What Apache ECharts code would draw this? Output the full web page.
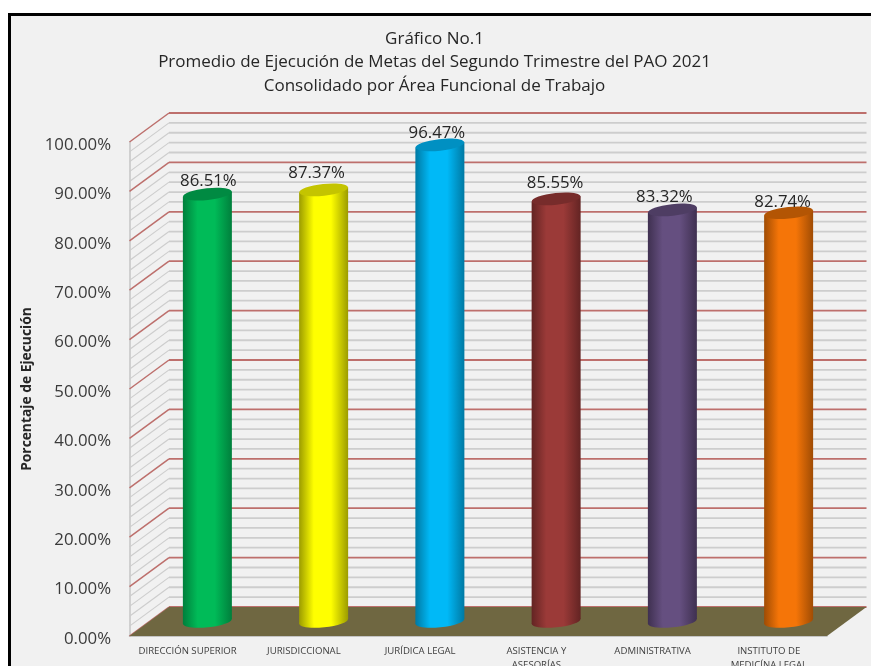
<!DOCTYPE html>
<html><head><meta charset="utf-8">
<style>html,body{margin:0;padding:0;background:#fff;overflow:hidden}#c{width:871px;height:666px}</style>
<script src="https://cdn.jsdelivr.net/npm/echarts@6/dist/echarts.min.js"></script>
</head><body><div id="c"></div>
<script>
const titleLines = ['Gráfico No.1','Promedio de Ejecución de Metas del Segundo Trimestre del PAO 2021','Consolidado por Área Funcional de Trabajo'];
const yAxisName = 'Porcentaje de Ejecución';
const categories = ['DIRECCIÓN SUPERIOR','JURISDICCIONAL','JURÍDICA LEGAL','ASISTENCIA Y\nASESORÍAS','ADMINISTRATIVA','INSTITUTO DE\nMEDICÍNA LEGAL'];
const values = [86.51,87.37,96.47,85.55,83.32,82.74];
const gridValues = [0,2,4,6,8,10,12,14,16,18,20,22,24,26,28,30,32,34,36,38,40,42,44,46,48,50,52,54,56,58,60,62,64,66,68,70,72,74,76,78,80,82,84,86,88,90,92,94,96,98,100];

// styling, kept apart from the data
const DX = 39.5, DY = -29;
const barColors = [
  {mid:'#00bb58',edge:'#007f3c',top:'#008a42'},
  {mid:'#ffff00',edge:'#9c9c00',top:'#c4c400'},
  {mid:'#00b9f7',edge:'#0079a3',top:'#0090c2'},
  {mid:'#9b3a38',edge:'#632423',top:'#772c2b'},
  {mid:'#654f80',edge:'#3f3050',top:'#4e3d63'},
  {mid:'#f57508',edge:'#a04c04',top:'#b35504'}
];
const labelNudge = [[1,-13],[-7,-17],[-3,-12],[-1,-16],[-8,-13],[-6,-11]];
const HALF_W = 24.5, RY = 5.8, TILT = 2.6;
const FONT = '"Open Sans", "Noto Sans", sans-serif';

function grad(c){
  return new echarts.graphic.LinearGradient(0,0,1,0,[
    {offset:0,color:c.edge},{offset:0.3,color:c.mid},{offset:0.65,color:c.mid},{offset:1,color:c.edge}]);
}
const chart = echarts.init(document.getElementById('c'),null,{renderer:'canvas'});
chart.setOption({
  animation:false,
  backgroundColor:'#fff',
  title:{text:titleLines.join('\n'),left:429.5,top:22,textAlign:'center',
    textStyle:{fontFamily:FONT,fontSize:17,fontWeight:'normal',color:'#262626',lineHeight:23.5}},
  graphic:[{type:'rect',z:-10,silent:true,shape:{x:9.5,y:14.5,width:900,height:700},
    style:{fill:'#f1f1f1',stroke:'#000',lineWidth:3}}],
  grid:{left:129.5,right:44,top:142,bottom:30,containLabel:false,outerBoundsMode:'none'},
  xAxis:{type:'category',data:categories,
    axisLine:{show:true,lineStyle:{color:'#b5b5b5',width:1.5}},axisTick:{show:false},
    axisLabel:{interval:0,color:'#404040',fontFamily:FONT,fontSize:9.6,lineHeight:14,margin:8}},
  yAxis:{type:'value',min:0,max:100,interval:10,
    name:yAxisName,nameLocation:'middle',nameGap:93,nameRotate:90,
    nameTextStyle:{fontFamily:FONT,fontSize:13.8,fontWeight:'bold',color:'#262626',align:'center'},
    axisLine:{show:true,lineStyle:{color:'#c4c4c4',width:1.5}},axisTick:{show:false},splitLine:{show:false},
    axisLabel:{margin:18.5,color:'#3a3a3a',fontFamily:FONT,fontSize:16.8,verticalAlign:'top',lineHeight:6,formatter:v=>v.toFixed(2)+'%'}},
  series:[
    {type:'custom',name:'grid',silent:true,z:1,clip:false,
     data:gridValues.map(v=>[0,v]),
     renderItem(p,api){
       const v=api.value(1),y=api.coord([0,v])[1],cs=p.coordSys;
       const major=v%10===0;
       const st={stroke:major?'#bd6f6c':'#cdcdcd',lineWidth:1.8,fill:null};
       return {type:'group',children:[
         {type:'line',shape:{x1:cs.x,y1:y,x2:cs.x+DX,y2:y+DY},style:{stroke:major?'#bd6f6c':'#cdcdcd',lineWidth:major?1.5:1.1,fill:null}},
         {type:'line',shape:{x1:cs.x+DX,y1:y+DY,x2:cs.x+cs.width+DX,y2:y+DY},style:st}
       ]};
     }},
    {type:'custom',name:'floor',silent:true,z:2,clip:false,
     data:[[0,0]],
     renderItem(p,api){
       const y=api.coord([0,0])[1],cs=p.coordSys,l=cs.x,r=cs.x+cs.width;
       return {type:'polygon',shape:{points:[[l,y],[l+DX,y+DY],[r+DX,y+DY],[r,y]]},style:{fill:'#6f6741'}};
     }},
    {type:'custom',name:'bars',silent:true,z:3,clip:false,
     data:values.map((v,i)=>[i,v]),
     renderItem(p,api){
       const i=api.value(0),v=api.value(1);
       const top=api.coord([i,v]),base=api.coord([i,0]);
       const cx=top[0]+DX/2,ty=top[1]+DY/2,by=base[1]+DY/2;
       const c=barColors[i],g=grad(c),rot=Math.atan2(TILT,HALF_W);
       const n=labelNudge[i];
       return {type:'group',children:[
         {type:'ellipse',shape:{cx:0,cy:0,rx:HALF_W,ry:RY},x:cx,y:by,rotation:rot,style:{fill:g}},
         {type:'polygon',shape:{points:[[cx-HALF_W,ty+TILT],[cx+HALF_W,ty-TILT],[cx+HALF_W,by-TILT],[cx-HALF_W,by+TILT]]},style:{fill:g}},
         {type:'ellipse',shape:{cx:0,cy:0,rx:HALF_W,ry:RY},x:cx,y:ty,rotation:rot,style:{fill:c.top}},
         {type:'text',x:cx+n[0],y:ty+n[1],style:{text:v.toFixed(2)+'%',fill:'#262626',font:'16.8px '+FONT,textAlign:'center',textVerticalAlign:'middle'}}
       ]};
     }}
  ]
});
</script></body></html>
